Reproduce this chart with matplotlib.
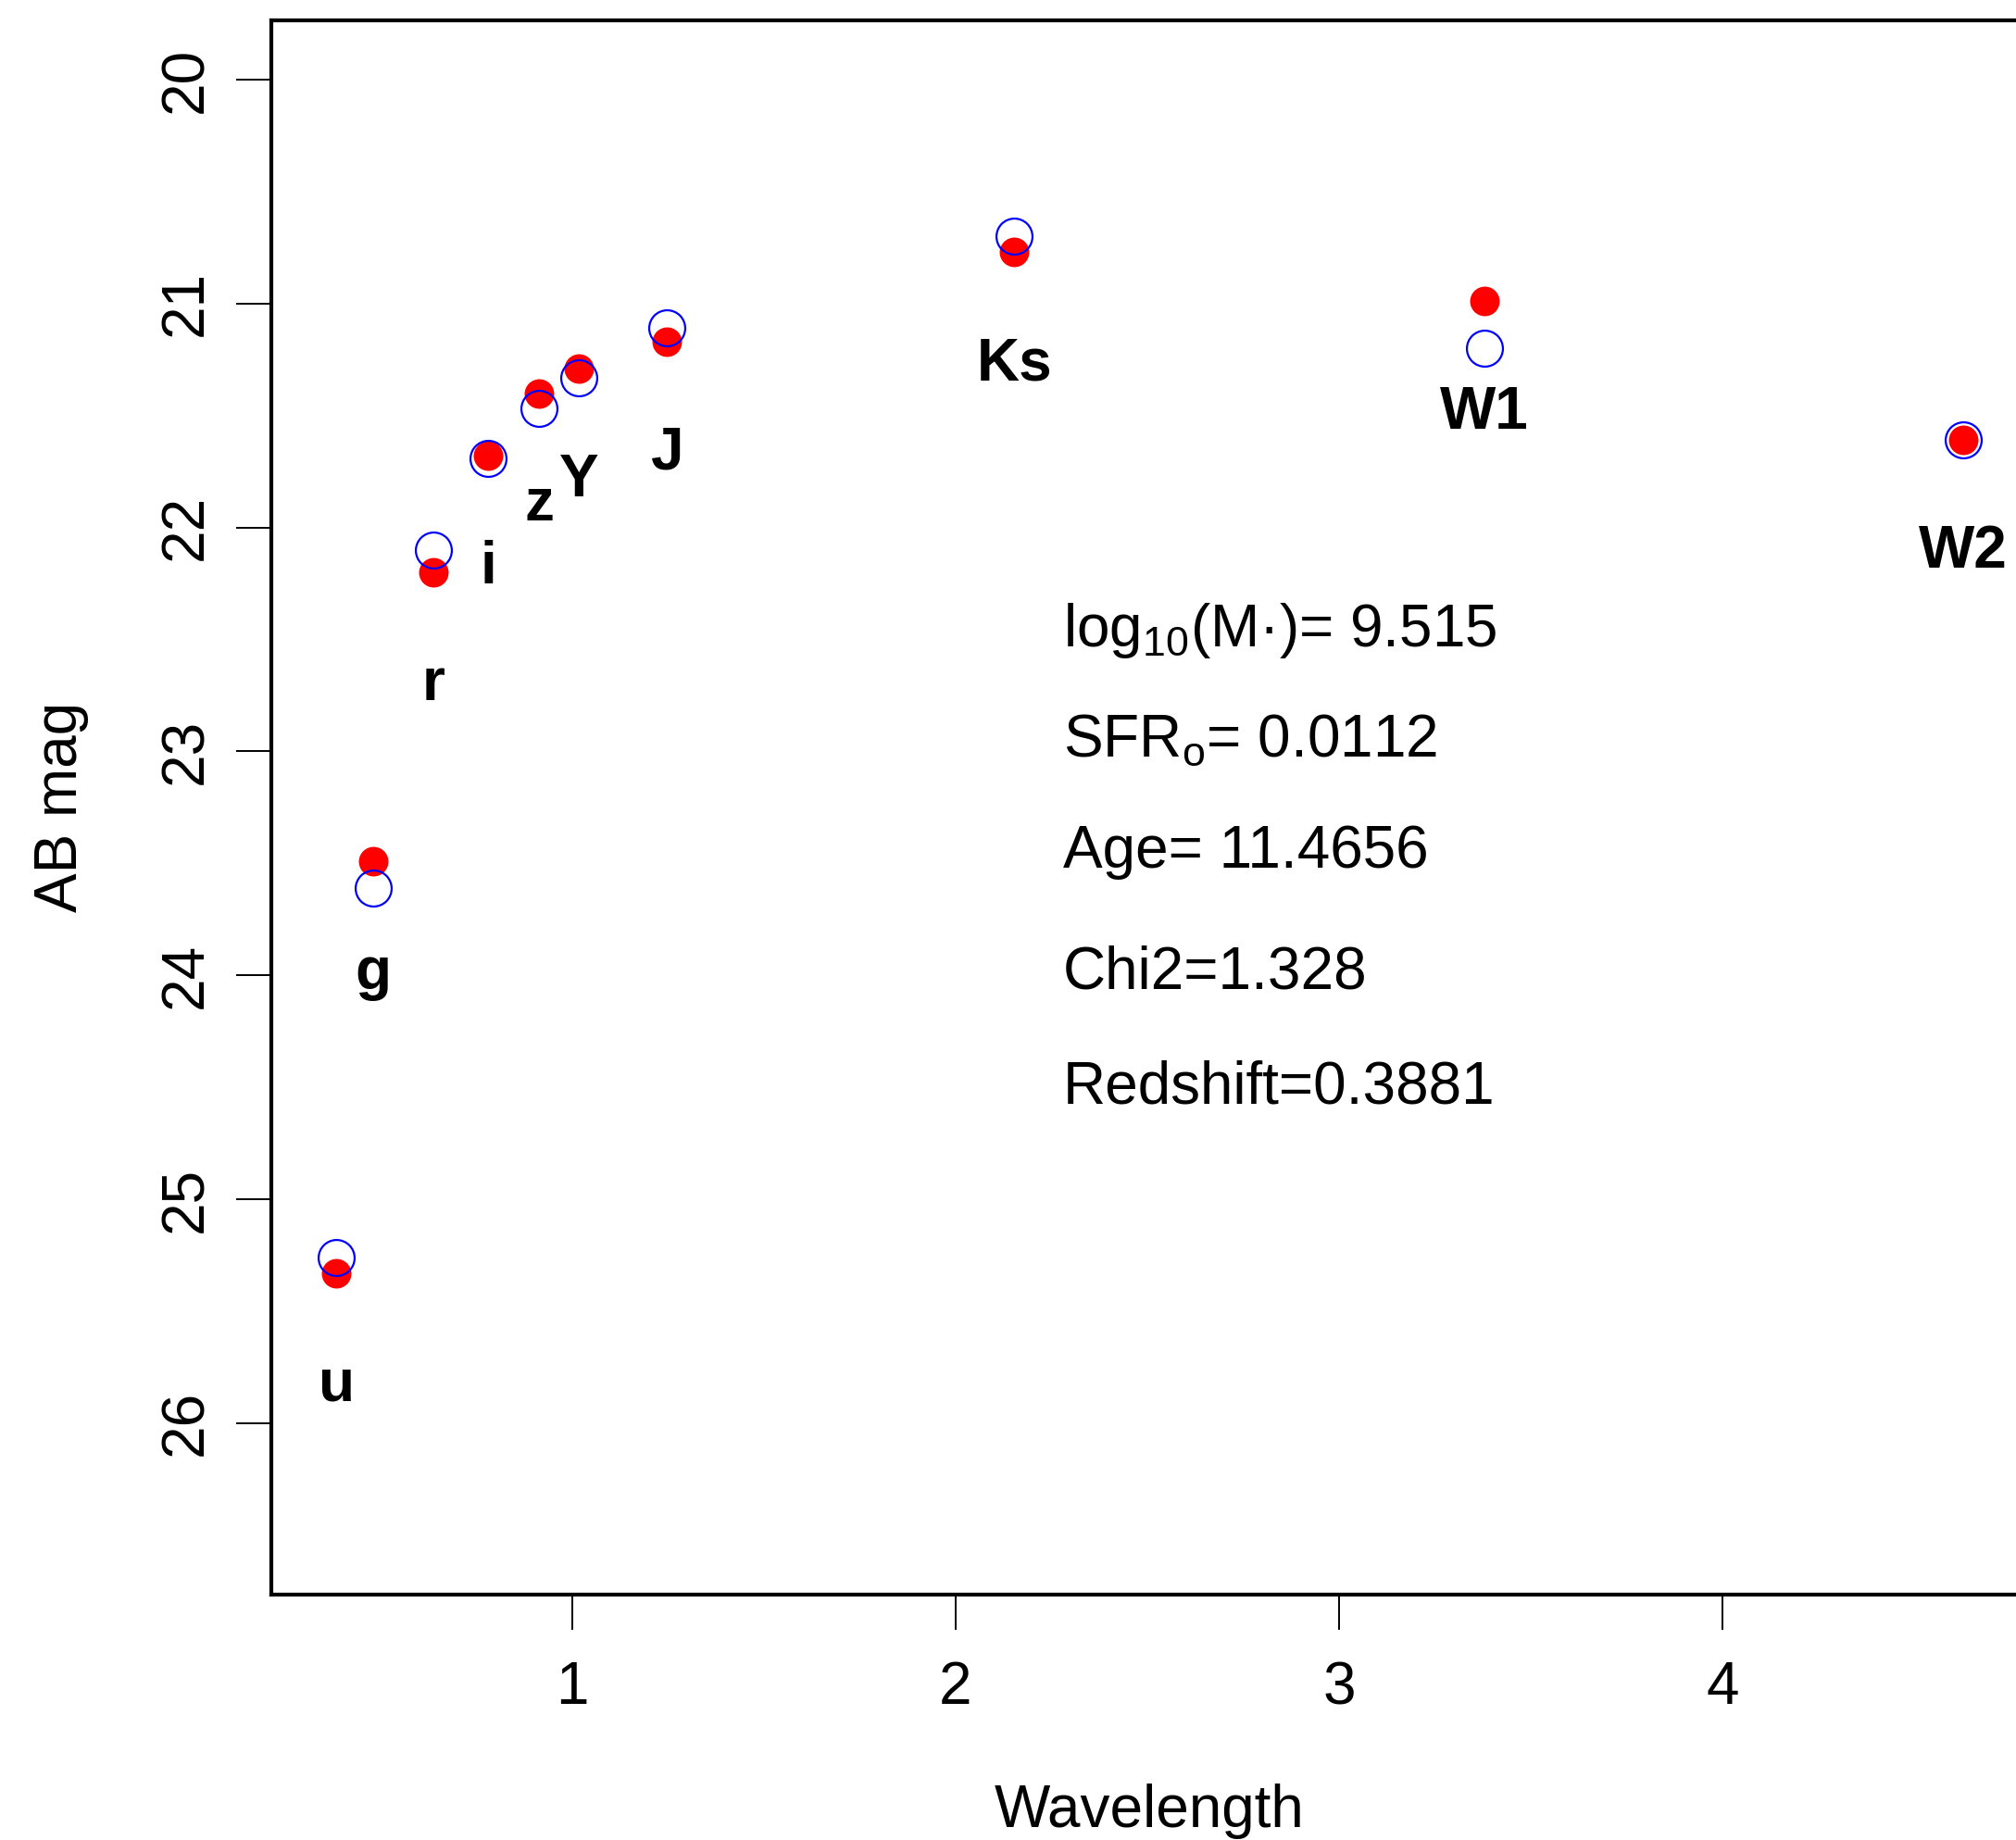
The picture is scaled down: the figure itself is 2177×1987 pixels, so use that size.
import matplotlib
matplotlib.use("Agg")
import matplotlib.pyplot as plt

plt.rcParams['font.family'] = ['Liberation Sans', 'DejaVu Sans']
plt.rcParams['mathtext.default'] = 'regular'

# photometric bands
bands = ['u', 'g', 'r', 'i', 'z', 'Y', 'J', 'Ks', 'W1', 'W2']
wavelength = [0.384, 0.479, 0.637, 0.780, 0.913, 1.017, 1.247, 2.153, 3.379, 4.628]
mag_obs = [25.33, 23.49, 22.20, 21.68, 21.40, 21.29, 21.17, 20.77, 20.99, 21.61]
mag_model = [25.26, 23.61, 22.10, 21.69, 21.47, 21.33, 21.11, 20.70, 21.20, 21.61]

fit_text = ['log$_{10}$(M\u00b7)= 9.515',
            'SFR$_{o}$= 0.0112',
            'Age= 11.4656',
            'Chi2=1.328',
            'Redshift=0.3881']
fit_text_y = [22.46, 22.95, 23.45, 23.99, 24.50]

fs = 46

fig = plt.figure(figsize=(21.77, 19.87), dpi=100)
ax = fig.add_axes([0.1346, 0.1334, 0.8714, 0.8556])

ax.plot(wavelength, mag_obs, 'o', color='red', ms=23, mew=0, linestyle='none')
ax.plot(wavelength, mag_model, 'o', mfc='none', mec='blue', ms=28, mew=1.6,
        linestyle='none')

for b, x, m in zip(bands, wavelength, mag_obs):
    ax.text(x, m + 0.5, b, ha='center', va='center', fontsize=fs,
            fontweight='bold')

for t, y in zip(fit_text, fit_text_y):
    ax.text(2.28, y, t, ha='left', va='center', fontsize=fs)

ax.set_xlim(0.2144, 4.798)
ax.set_ylim(26.765, 19.735)
ax.set_xticks([1, 2, 3, 4])
ax.set_yticks([20, 21, 22, 23, 24, 25, 26])

for s in ax.spines.values():
    s.set_linewidth(3)
ax.tick_params(axis='both', length=27.5, width=1.4, labelsize=fs, direction='out')
ax.tick_params(axis='x', pad=24)
ax.tick_params(axis='y', pad=17, labelrotation=90)
for lab in ax.get_yticklabels():
    lab.set_va('center')

ax.set_xlabel('Wavelength', fontsize=fs, va='baseline')
ax.xaxis.set_label_coords(0.5, -0.1476)
ax.set_ylabel('AB mag', fontsize=fs, va='baseline')
ax.yaxis.set_label_coords(-0.1107, 0.5)

fig.savefig('out.png', dpi=100)
